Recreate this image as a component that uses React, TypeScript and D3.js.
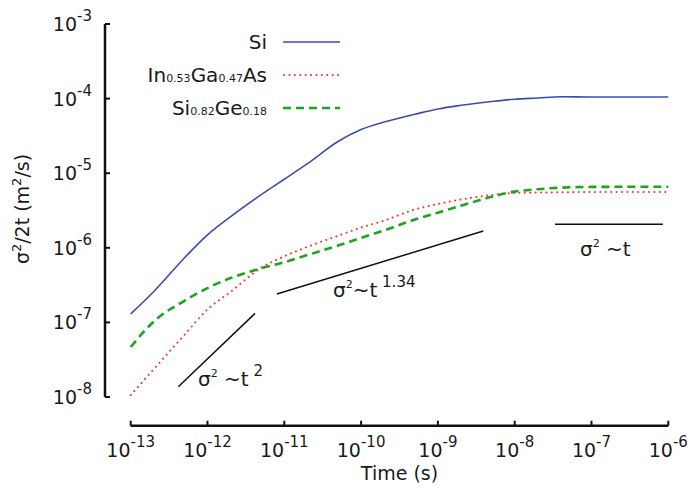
import * as d3 from "d3";

// time grid (s)
const times = [
  1e-13, 2e-13, 5e-13, 1e-12, 2e-12, 5e-12, 1e-11, 2e-11, 5e-11, 1e-10,
  2e-10, 5e-10, 1e-9, 2e-9, 5e-9, 1e-8, 2e-8, 4e-8, 1e-7, 1e-6,
];
// sigma^2/2t (m^2/s)
const siValues = [
  1.3e-7, 2.6e-7, 7.3e-7, 1.49e-6, 2.61e-6, 5.15e-6, 8.3e-6, 1.34e-5, 2.66e-5, 3.85e-5,
  4.85e-5, 6.16e-5, 7.26e-5, 8.13e-5, 9.14e-5, 9.82e-5, 1.02e-4, 1.06e-4, 1.05e-4, 1.05e-4,
];
const ingaasValues = [
  1.06e-8, 2.37e-8, 6.8e-8, 1.49e-7, 2.57e-7, 5.4e-7, 7.7e-7, 1.03e-6, 1.45e-6, 1.87e-6,
  2.32e-6, 3.26e-6, 3.86e-6, 4.44e-6, 5.1e-6, 5.45e-6, 5.5e-6, 5.55e-6, 5.6e-6, 5.6e-6,
];
const sigeValues = [
  4.68e-8, 1.03e-7, 1.95e-7, 2.88e-7, 3.93e-7, 5.3e-7, 6.4e-7, 8.0e-7, 1.07e-6, 1.36e-6,
  1.71e-6, 2.39e-6, 2.96e-6, 3.66e-6, 4.83e-6, 5.66e-6, 6.1e-6, 6.4e-6, 6.55e-6, 6.59e-6,
];

// guide lines (slope markers)
const guideT2 = [[4.17e-13, 1.37e-8], [4.16e-12, 1.32e-7]];
const guideT134 = [[8.0e-12, 2.4e-7], [3.9e-9, 1.68e-6]];
const guideT1 = [[3.35e-8, 2.07e-6], [8.5e-7, 2.07e-6]];

const xTickExps = [-13, -12, -11, -10, -9, -8, -7, -6];
const yTickExps = [-3, -4, -5, -6, -7, -8];

const FONT = "DejaVu Sans";
const W = 690;
const H = 493;

export default function App() {
  const x = d3.scaleLog().domain([1e-13, 1e-6]).range([130.7, 668.3]);
  const y = d3.scaleLog().domain([1e-8, 1e-3]).range([397, 24]);

  const line = d3
    .line<[number, number]>()
    .x((d) => x(d[0]))
    .y((d) => y(d[1]))
    .curve(d3.curveMonotoneX);

  const seg = d3
    .line<number[]>()
    .x((d) => x(d[0]))
    .y((d) => y(d[1]));

  const zip = (vals: number[]) => times.map((t, i) => [t, vals[i]] as [number, number]);

  const series = [
    { name: "Si", vals: siValues, color: "#3c4db0", width: 1.6, dash: undefined, cap: "butt" },
    { name: "InGaAs", vals: ingaasValues, color: "#ee3a2c", width: 2, dash: "0.1,5.3", cap: "round" },
    { name: "SiGe", vals: sigeValues, color: "#1ca41c", width: 2.6, dash: "8,5", cap: "butt" },
  ];

  const axisY = 425.7;
  const spineX = 105;

  return (
    <svg
      width={W}
      height={H}
      style={{ position: "absolute", left: 0, top: 0, background: "#fff" }}
      fontFamily={FONT}
    >
      {/* series */}
      {series.map((s) => (
        <path
          key={s.name}
          d={line(zip(s.vals)) || ""}
          fill="none"
          stroke={s.color}
          strokeWidth={s.width}
          strokeDasharray={s.dash}
          strokeLinecap={s.cap as any}
        />
      ))}

      {/* guide lines */}
      {[guideT2, guideT134, guideT1].map((g, i) => (
        <path key={i} d={seg(g) || ""} stroke="#111" strokeWidth={1.5} fill="none" />
      ))}

      {/* guide labels */}
      <text x={198} y={386} fontSize={20} fill="#1a1a1a">
        σ<tspan fontSize={11} dy={-9}>2</tspan>
        <tspan dy={9}> ~t</tspan>
        <tspan fontSize={15} dy={-10}> 2</tspan>
      </text>
      <text x={333} y={297} fontSize={20} fill="#1a1a1a">
        σ<tspan fontSize={11} dy={-9}>2</tspan>
        <tspan dy={9}>~t</tspan>
        <tspan fontSize={15} dy={-10}> 1.34</tspan>
      </text>
      <text x={580} y={256} fontSize={20} fill="#1a1a1a">
        σ<tspan fontSize={11} dy={-9}>2</tspan>
        <tspan dy={9}> ~t</tspan>
      </text>

      {/* y axis */}
      <line x1={spineX} x2={spineX} y1={y(1e-3)} y2={y(1e-8)} stroke="#111" strokeWidth={2.5} />
      {yTickExps.map((e) => (
        <g key={e}>
          <line x1={spineX} x2={spineX + 5} y1={y(10 ** e)} y2={y(10 ** e)} stroke="#111" strokeWidth={2} />
          <text x={92} y={y(10 ** e) + 7} fontSize={19} textAnchor="end" fill="#1a1a1a">
            10<tspan fontSize={15} dy={-10}>{`-${-e}`}</tspan>
          </text>
        </g>
      ))}

      {/* x axis */}
      <line x1={x(1e-13)} x2={x(1e-6)} y1={axisY} y2={axisY} stroke="#111" strokeWidth={2.5} />
      {xTickExps.map((e) => (
        <g key={e}>
          <line x1={x(10 ** e)} x2={x(10 ** e)} y1={axisY} y2={axisY - 5} stroke="#111" strokeWidth={2} />
          <text x={x(10 ** e)} y={456.5} fontSize={19} textAnchor="middle" fill="#1a1a1a">
            10<tspan fontSize={15} dy={-10}>{`-${-e}`}</tspan>
          </text>
        </g>
      ))}

      {/* axis titles */}
      <text x={399.5} y={480} fontSize={19} textAnchor="middle" fill="#1a1a1a">
        Time (s)
      </text>
      <text transform="translate(29,209) rotate(-90)" fontSize={19} textAnchor="middle" fill="#1a1a1a">
        σ<tspan fontSize={13} dy={-8}>2</tspan>
        <tspan dy={8}>/2t (m</tspan>
        <tspan fontSize={13} dy={-8}>2</tspan>
        <tspan dy={8}>/s)</tspan>
      </text>

      {/* legend */}
      <g>
        <text x={267} y={49} fontSize={20} textAnchor="end" fill="#1a1a1a">Si</text>
        <line x1={283} x2={340} y1={42} y2={42} stroke={series[0].color} strokeWidth={1.6} />

        <text x={267} y={82} fontSize={20} textAnchor="end" fill="#1a1a1a">
          In<tspan fontSize={11}>0.53</tspan>Ga<tspan fontSize={11}>0.47</tspan>As
        </text>
        <line x1={284} x2={340} y1={75} y2={75} stroke={series[1].color} strokeWidth={2} strokeDasharray="0.1,5.3" strokeLinecap="round" />

        <text x={267} y={115} fontSize={20} textAnchor="end" fill="#1a1a1a">
          Si<tspan fontSize={11}>0.82</tspan>Ge<tspan fontSize={11}>0.18</tspan>
        </text>
        <line x1={283} x2={340} y1={108} y2={108} stroke={series[2].color} strokeWidth={2.6} strokeDasharray="8,5" />
      </g>
    </svg>
  );
}
